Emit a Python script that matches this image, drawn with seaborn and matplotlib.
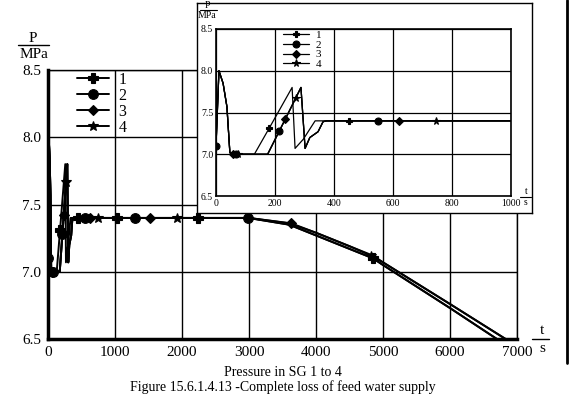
import matplotlib
matplotlib.use("Agg")
import matplotlib.pyplot as plt
import seaborn as sns
from matplotlib.lines import Line2D

# ---- data (t in s, P in MPa) ----
t1 = [0, 10, 24, 37, 47, 58, 68, 75, 130, 180, 258, 268, 296, 336, 450, 1030, 2240, 3000,
      3600, 4000, 4500, 4850, 5000, 6000, 6700, 7000]
p1 = [7.1, 8.0, 7.85, 7.57, 7.02, 7.0, 7.0, 7.0, 7.0, 7.31, 7.8, 7.07, 7.18, 7.4, 7.4, 7.4, 7.4, 7.4,
      7.35, 7.27, 7.17, 7.1, 7.05, 6.73, 6.5, 6.4]
m1 = [180, 450, 1030, 2240, 4850]

t2 = [0, 10, 24, 37, 47, 58, 68, 75, 175, 215, 288, 302, 318, 346, 363, 375, 550, 1300, 2985,
      3600, 4000, 4500, 4850, 5000, 6000, 6700, 7000]
p2 = [7.1, 8.0, 7.85, 7.57, 7.02, 7.0, 7.0, 7.0, 7.0, 7.28, 7.8, 7.07, 7.2, 7.27, 7.39, 7.4, 7.4, 7.4, 7.4,
      7.35, 7.27, 7.17, 7.1, 7.05, 6.73, 6.5, 6.4]
m2 = [0, 68, 215, 550, 1300, 2985]

t3 = [0, 10, 24, 37, 47, 58, 68, 75, 175, 235, 288, 302, 318, 346, 363, 375, 620, 1520, 3000,
      3630, 4000, 4500, 4850, 5000, 6000, 6830, 7000]
p3 = [7.1, 8.0, 7.85, 7.57, 7.02, 7.0, 7.0, 7.0, 7.0, 7.42, 7.8, 7.07, 7.2, 7.27, 7.39, 7.4, 7.4, 7.4, 7.4,
      7.36, 7.29, 7.19, 7.12, 7.07, 6.76, 6.5, 6.45]
m3 = [58, 235, 620, 1520, 3630]

t4 = [0, 10, 24, 37, 47, 58, 68, 75, 175, 270, 288, 302, 318, 346, 363, 375, 745, 1925, 3000,
      3600, 4000, 4500, 4820, 5000, 6000, 6830, 7000]
p4 = [7.1, 8.0, 7.85, 7.57, 7.02, 7.0, 7.0, 7.0, 7.0, 7.67, 7.8, 7.07, 7.2, 7.27, 7.39, 7.4, 7.4, 7.4, 7.4,
      7.36, 7.29, 7.19, 7.12, 7.07, 6.76, 6.5, 6.45]
m4 = [75, 270, 745, 1925, 4820]

labels = ["1", "2", "3", "4"]
markers = ["P", "o", "D", "*"]

x_main = [0, 1000, 2000, 3000, 4000, 5000, 6000, 7000]
x_inset = [0, 200, 400, 600, 800, 1000]
y_ticks = [6.5, 7.0, 7.5, 8.0, 8.5]

sns.set_theme(style="white")
plt.rcParams["font.family"] = ["Liberation Serif", "DejaVu Serif"]
plt.rcParams["text.color"] = "black"

fig = plt.figure(figsize=(5.71, 3.95), dpi=100)
W, H = 571, 395


def fig_box(x0, y0, x1, y1):
    return [x0 / W, 1 - y1 / H, (x1 - x0) / W, (y1 - y0) / H]


curves = [(t1, p1, m1), (t2, p2, m2), (t3, p3, m3), (t4, p4, m4)]


def draw(ax, sizes, lw):
    for (t, p, m), lab, mk, ms in zip(curves, labels, markers, sizes):
        mask = [v in m for v in t]
        sns.lineplot(x=t, y=p, ax=ax, color="black", lw=lw, marker=mk, markersize=ms,
                     markevery=mask, markeredgecolor="black", markerfacecolor="black",
                     markeredgewidth=0.8, label=lab, estimator=None, sort=False)


# ---- main axes ----
ax = fig.add_axes(fig_box(48, 70, 517, 339))
draw(ax, [7.5, 7, 5, 7.5], 1.4)
ax.set_xlim(0, 7000)
ax.set_ylim(6.5, 8.5)
ax.set_xticks(x_main)
ax.set_yticks(y_ticks)
ax.set_yticklabels([f"{v:.1f}" for v in y_ticks])
ax.grid(True, color="black", lw=1.0)
ax.set_xlabel("")
ax.set_ylabel("")
ax.tick_params(direction="in", length=5, width=1.5, labelsize=11, colors="black", pad=5)
for side in ["left", "bottom"]:
    ax.spines[side].set_linewidth(2.5)
for side in ["top", "right"]:
    ax.spines[side].set_linewidth(1.0)
for s in ax.spines.values():
    s.set_color("black")
leg = ax.legend(loc="upper left", bbox_to_anchor=(0.058, 1.0), frameon=False, fontsize=11.5,
                handlelength=2.0, handletextpad=0.6, labelspacing=0.0, borderpad=0.1,
                borderaxespad=0.0)
for txt in leg.get_texts():
    txt.set_color("black")

fig.text(33 / W, 1 - 38 / H, "P", ha="center", va="center", fontsize=11)
fig.text(34 / W, 1 - 55 / H, "MPa", ha="center", va="center", fontsize=11)
fig.add_artist(Line2D([18 / W, 49 / W], [1 - 45 / H, 1 - 45 / H], color="black", lw=1.0))
fig.text(542 / W, 1 - 331 / H, "t", ha="center", va="center", fontsize=11)
fig.text(542 / W, 1 - 349 / H, "s", ha="center", va="center", fontsize=11)
fig.add_artist(Line2D([532 / W, 549 / W], [1 - 339 / H, 1 - 339 / H], color="black", lw=1.0))

fig.text(283 / W, 1 - 372 / H, "Pressure in SG 1 to 4", ha="center", va="center", fontsize=10)
fig.text(283 / W, 1 - 387 / H, "Figure 15.6.1.4.13 -Complete loss of feed water supply",
         ha="center", va="center", fontsize=10)

# page border on the right
fig.add_artist(Line2D([567 / W, 567 / W], [0.08, 1.0], color="black", lw=2.0))

# ---- inset ----
frame = fig.add_axes(fig_box(197, 3, 532, 213))
frame.set_facecolor("white")
frame.set_xticks([])
frame.set_yticks([])
for s in frame.spines.values():
    s.set_color("black")
    s.set_linewidth(1.0)

axi = fig.add_axes(fig_box(216, 29, 511, 196))
draw(axi, [5, 5, 4, 5.5], 0.9)
axi.set_xlim(0, 1000)
axi.set_ylim(6.5, 8.5)
axi.set_xticks(x_inset)
axi.set_yticks(y_ticks)
axi.set_yticklabels([f"{v:.1f}" for v in y_ticks])
axi.grid(True, color="black", lw=0.9)
axi.set_xlabel("")
axi.set_ylabel("")
axi.tick_params(direction="in", length=3, width=1.0, labelsize=7, colors="black", pad=2)
for s in axi.spines.values():
    s.set_color("black")
    s.set_linewidth(1.2)
leg2 = axi.legend(loc="upper left", bbox_to_anchor=(0.225, 1.0), frameon=False, fontsize=8,
                  handlelength=2.3, handletextpad=0.6, labelspacing=0.0, borderpad=0.1,
                  borderaxespad=0.0)
for txt in leg2.get_texts():
    txt.set_color("black")

fig.text(207 / W, 1 - 6 / H, "P", ha="center", va="center", fontsize=7)
fig.text(207 / W, 1 - 15 / H, "MPa", ha="center", va="center", fontsize=7)
fig.add_artist(Line2D([200 / W, 217 / W], [1 - 9.5 / H, 1 - 9.5 / H], color="black", lw=0.8))
fig.text(526 / W, 1 - 192 / H, "t", ha="center", va="center", fontsize=7)
fig.text(526 / W, 1 - 203 / H, "s", ha="center", va="center", fontsize=7)
fig.add_artist(Line2D([520 / W, 531 / W], [1 - 197 / H, 1 - 197 / H], color="black", lw=0.8))

fig.savefig("out.png", dpi=100)
